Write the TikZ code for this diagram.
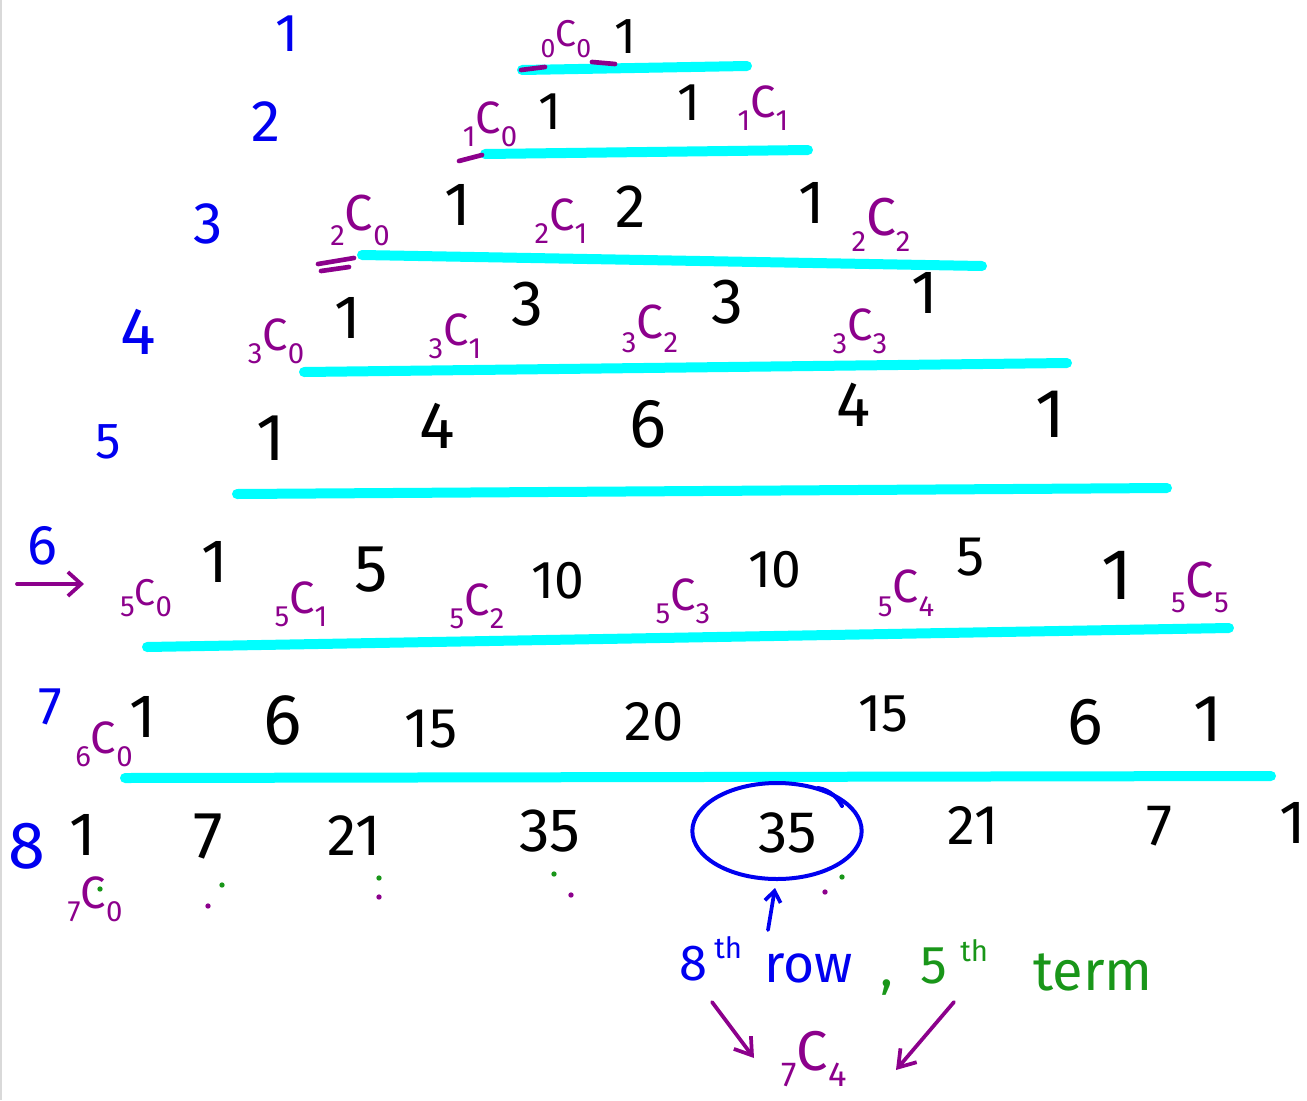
\documentclass[tikz,border=0pt]{standalone}
\usepackage{fontspec}
\setmainfont{Fira Sans}
\usetikzlibrary{arrows.meta,shapes.geometric}
\definecolor{pblue}{RGB}{0,0,240}
\definecolor{ppurple}{RGB}{140,0,140}
\definecolor{pcyan}{RGB}{0,255,255}
\definecolor{pgreen}{RGB}{25,150,25}
\newcommand\nCk[3][22]{\raisebox{-0.3em}{\fontsize{#1}{#1}\selectfont #2}C\raisebox{-0.3em}{\fontsize{#1}{#1}\selectfont #3}}
\tikzset{
  num/.style={text=black, inner sep=0pt, font=\fontsize{#1}{#1}\selectfont},
  num/.default=46,
  rowlab/.style={text=pblue, inner sep=0pt, font=\fontsize{#1}{#1}\selectfont},
  rowlab/.default=44,
  lab/.style={text=ppurple, inner sep=0pt, anchor=base, font=\fontsize{#1}{#1}\selectfont},
  lab/.default=34,
  cy/.style={pcyan, line width=7.5pt, line cap=round},
  pmark/.style={ppurple, line width=3.5pt, line cap=round},
  parrow/.style={ppurple, line width=2.8pt, line cap=round, -{Straight Barb[length=12pt,width=16pt,line width=2.8pt]}},
  barrow/.style={pblue, line width=2.8pt, line cap=round, -{Straight Barb[length=8pt,width=12pt,line width=2.8pt]}},
  gdot/.style={fill=pgreen, draw=none, circle, inner sep=0pt, minimum size=4pt},
  pdot/.style={fill=ppurple, draw=none, circle, inner sep=0pt, minimum size=4pt},
  note/.style={inner sep=0pt, anchor=base west, font=\fontsize{#1}{#1}\selectfont},
}
\begin{document}
\begin{tikzpicture}[x=0.75pt,y=-0.75pt]
\useasboundingbox[fill=white] (0,0) rectangle (1307,1100);
\draw[black!15, line width=1pt] (1,0) -- (1,1100);

% cyan lines
\draw[cy] (522,70) -- (747,66);
\draw[cy] (485,154) -- (808,150);
\draw[cy] (362,255) -- (982,266);
\draw[cy] (304,372) -- (1067,363);
\draw[cy] (237,494) -- (1167,488);
\draw[cy] (147,647) -- (1229,628);
\draw[cy] (125,778) -- (1271,776);

% purple marks
\draw[pmark] (521,70) -- (545,67);
\draw[pmark] (592,62) -- (615,64);
\draw[pmark] (459,161) -- (482,155);
\draw[pmark] (318,264) -- (354,258);
\draw[pmark] (321,271) -- (349,267);

% row labels
\node[rowlab=40] (r1) at (287,34) {1};
\node[rowlab] (r2) at (266,122) {2};
\node[rowlab] (r3) at (208,224) {3};
\node[rowlab=50] (r4) at (138,332) {4};
\node[rowlab=38] (r5) at (108,442) {5};
\node[rowlab=42] (r6) at (42,546) {6};
\node[rowlab=40] (r7) at (50,707) {7};
\node[rowlab=50] (r8) at (27,846) {8};
\coordinate (a6s) at (17,584);
\coordinate (a6e) at (84,584);
\draw[ppurple, line width=2.8pt, line cap=round, -{Straight Barb[length=10pt,width=18pt,line width=2.8pt]}] (a6s) -- (a6e);

% numbers
\node[num=38] (n11) at (625,37) {1};
\node[num=40] (n21) at (550,112) {1};
\node[num=40] (n22) at (689,103) {1};
\node[num] (n31) at (458,205) {1};
\node[num] (n32) at (631,207) {2};
\node[num] (n33) at (812,203) {1};
\node[num] (n41) at (348,318) {1};
\node[num=48] (n42) at (527,304) {3};
\node[num=48] (n43) at (727,302) {3};
\node[num] (n44) at (925,293) {1};
\node[num=50] (n51) at (271,438) {1};
\node[num=50] (n52) at (437,426) {4};
\node[num=52] (n53) at (648,424) {6};
\node[num=48] (n54) at (854,405) {4};
\node[num=52] (n55) at (1050,414) {1};
\node[num] (n61) at (215,562) {1};
\node[num=50] (n62) at (371,570) {5};
\node[num=40] (n63) at (558,581) {10};
\node[num=40] (n64) at (775,570) {10};
\node[num=42] (n65) at (971,557) {5};
\node[num=54] (n66) at (1117,575) {1};
\node[num] (n71) at (143,717) {1};
\node[num=54] (n72) at (283,720) {6};
\node[num=42] (n73) at (431,729) {15};
\node[num=42] (n74) at (654,722) {20};
\node[num=40] (n75) at (883,714) {15};
\node[num=50] (n76) at (1085,722) {6};
\node[num=50] (n77) at (1208,719) {1};
\node[num=46] (n81) at (83,835) {1};
\node[num=50] (n82) at (208,837) {7};
\node[num=44] (n83) at (354,836) {21};
\node[num=46] (n84) at (550,831) {35};
\node[num=44] (n85) at (788,833) {35};
\node[num=42] (n86) at (973,825) {21};
\node[num=44] (n87) at (1160,826) {7};
\node[num=46] (n88) at (1293,823) {1};

% purple nCk labels
\node[lab=28] (c00) at (566,46) {\nCk[20]{0}{0}};
\node[lab] (c10) at (490,133) {\nCk{1}{0}};
\node[lab] (c11) at (763,117) {\nCk{1}{1}};
\node[lab=38] (c20) at (360,230) {\nCk{2}{0}};
\node[lab] (c21) at (561,230) {\nCk{2}{1}};
\node[lab=40] (c22) at (881,235) {\nCk{2}{2}};
\node[lab] (c30) at (276,350) {\nCk{3}{0}};
\node[lab] (c31) at (455,345) {\nCk{3}{1}};
\node[lab=36] (c32) at (650,338) {\nCk{3}{2}};
\node[lab] (c33) at (860,340) {\nCk{3}{3}};
\node[lab=28] (c50) at (146,605) {\nCk{5}{0}};
\node[lab] (c51) at (301,613) {\nCk{5}{1}};
\node[lab] (c52) at (477,615) {\nCk{5}{2}};
\node[lab] (c53) at (683,610) {\nCk{5}{3}};
\node[lab=35] (c54) at (906,602) {\nCk{5}{4}};
\node[lab=38] (c55) at (1200,597) {\nCk{5}{5}};
\node[lab] (c60) at (104,753) {\nCk{6}{0}};
\node[lab=34] (c70) at (95,908) {\nCk{7}{0}};

% dots under row 8
\node[gdot] (g1) at (100,889) {};
\node[gdot] (g2) at (222,885) {};
\node[pdot] (p2) at (208,906) {};
\node[gdot] (g3) at (379,878) {};
\node[pdot] (p3) at (379,897) {};
\node[gdot] (g4) at (554,874) {};
\node[pdot] (p4) at (571,895) {};
\node[gdot] (g5) at (842,877) {};
\node[pdot] (p5) at (825,892) {};

% circle
\node[draw=pblue, line width=3pt, ellipse, minimum width=127pt, minimum height=72pt, inner sep=0pt] (circ) at (777,831) {};
\draw[pblue, line width=3pt, line cap=round] (818,788) .. controls (830,790) and (838,798) .. (842,806);
\coordinate (bs) at (768,930);
\coordinate (be) at (775,888);
\draw[barrow] (bs) -- (be);

% bottom text
\node[note=38, text=pblue] (t8) at (679,980) {8};
\node[note=22, text=pblue] (t8th) at (714,958) {th};
\node[note=40, text=pblue] (trow) at (764,982) {row};
\node[note=40, text=pgreen] (tcomma) at (880,986) {,};
\node[note=40, text=pgreen] (t5) at (920,983) {5};
\node[note=22, text=pgreen] (t5th) at (960,961) {th};
\node[note=42, text=pgreen] (tterm) at (1033,990) {term};

\node[lab=42] (c74) at (814,1070) {\nCk[26]{7}{4}};
\coordinate (la) at (712,1002);
\coordinate (lb) at (754,1058);
\coordinate (ra) at (954,1002);
\coordinate (rb) at (896,1070);
\draw[parrow] (la) -- (lb);
\draw[parrow] (ra) -- (rb);
\end{tikzpicture}
\end{document}
